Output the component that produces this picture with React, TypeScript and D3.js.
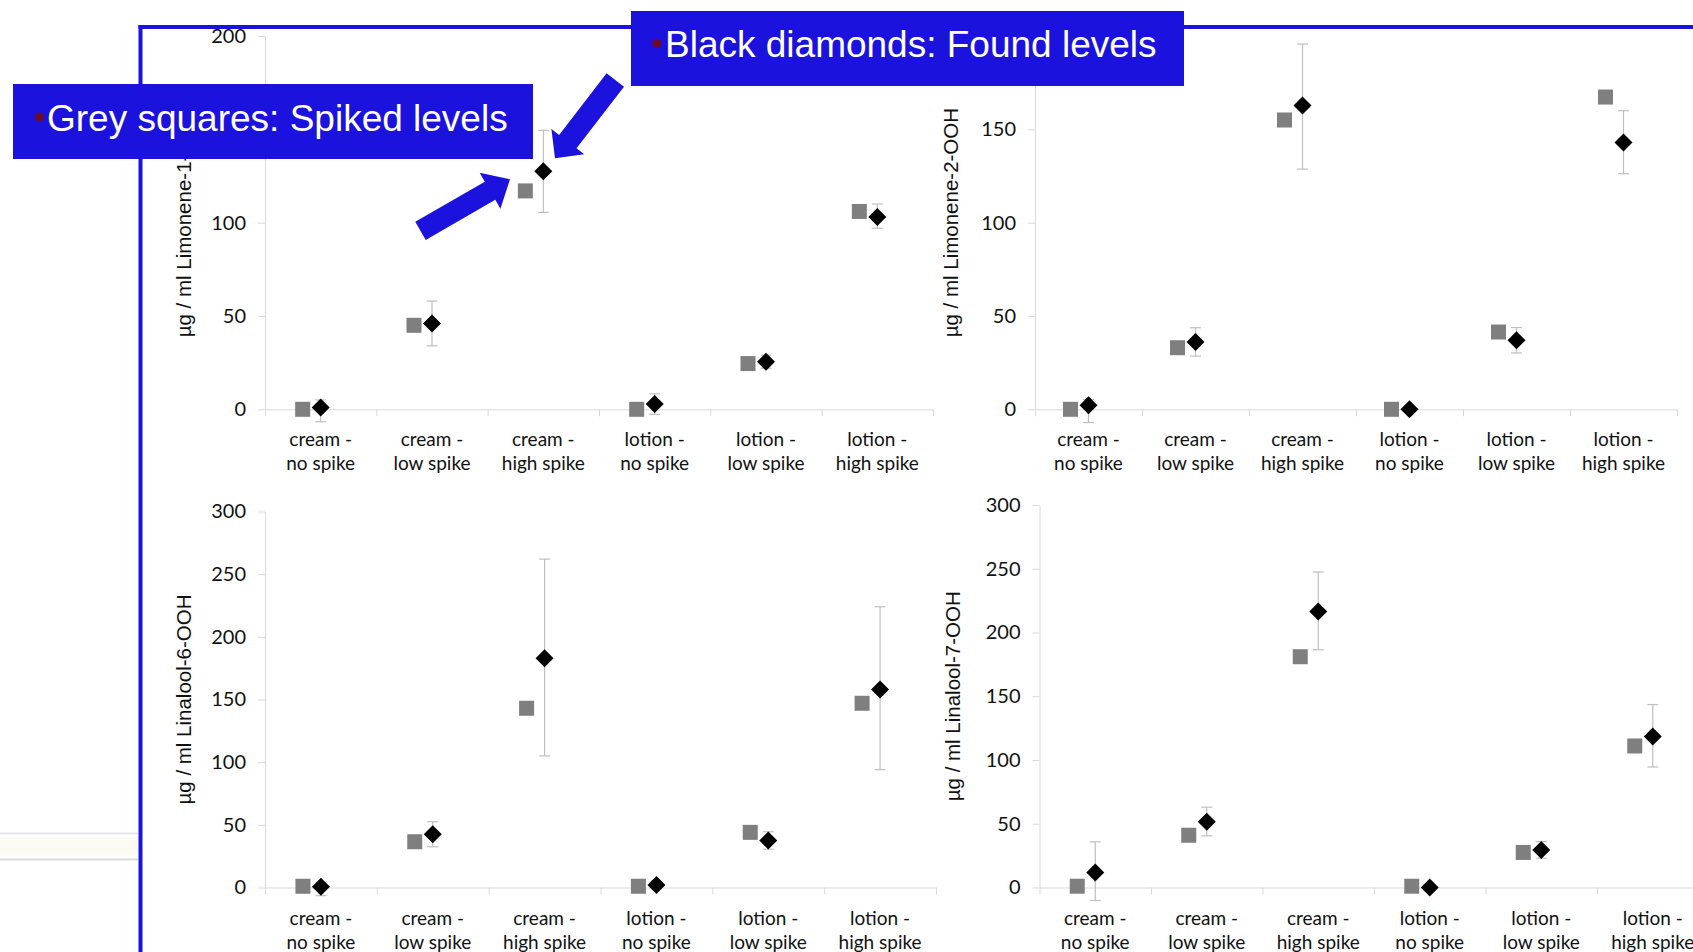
import { useEffect, useRef } from 'react'
import * as d3 from 'd3'

// ── Data ────────────────────────────────────────────────────────────────────
const CAT_LINE1 = ['cream -', 'cream -', 'cream -', 'lotion -', 'lotion -', 'lotion -']
const CAT_LINE2 = ['no spike', 'low spike', 'high spike', 'no spike', 'low spike', 'high spike']

const TICKS_200 = [0, 50, 100, 150, 200]
const TICKS_300 = [0, 50, 100, 150, 200, 250, 300]

// Limonene-1-OOH
const LIM1_SPIKED = [0, 45, 117, 0, 24.5, 106]
const LIM1_FOUND = [1, 46, 127.5, 2.8, 25.5, 103]
const LIM1_PLUS = [4, 12, 22, 5.5, 3.5, 7]
const LIM1_MINUS = [7.7, 12, 22, 5.5, 3.5, 6]

// Limonene-2-OOH
const LIM2_SPIKED = [0, 33, 155, 0, 41.4, 167.3]
const LIM2_FOUND = [2.2, 36, 162.7, 0, 37, 143]
const LIM2_PLUS = [3, 7.7, 33, 0, 6.8, 17]
const LIM2_MINUS = [9.3, 7.5, 34, 0, 6.8, 16.8]

// Linalool-6-OOH
const LIN6_SPIKED = [1, 36.5, 143, 1, 44, 147]
const LIN6_FOUND = [0.5, 42.5, 183, 2, 37.5, 158]
const LIN6_PLUS = [3, 10, 79, 3, 7, 66]
const LIN6_MINUS = [7, 10, 78, 3, 7, 64]

// Linalool-7-OOH
const LIN7_SPIKED = [1, 41, 181, 1, 27.5, 111]
const LIN7_FOUND = [11.8, 51.5, 216.5, 0, 29.5, 118.5]
const LIN7_PLUS = [24, 11.5, 31, 0, 6.5, 25]
const LIN7_MINUS = [22, 11, 30, 0, 6.5, 24]

// tick labels hidden under the callout boxes in the slide
const HIDE_NONE: number[] = []
const HIDE_LIM1 = [150]
const HIDE_LIM2 = [200]

// ── Styles ──────────────────────────────────────────────────────────────────
const BLUE = '#1c12de'
const AXIS = '#d9d9d9'
const ERR = '#bfbfbf'
const SQUARE = '#7f7f7f'
const BULLET = '#6b0a2b'
const TICK_FONT = 'Lato, "Open Sans", sans-serif'
const SANS = '"Liberation Sans", Arial, sans-serif'

const SQUARE_SIZE = 15
const DIAMOND_SIZE = 18
const SQUARE_SHIFT = -18
const CAP = 11

type PanelProps = {
  title: string
  spiked: number[]
  found: number[]
  plus: number[]
  minus: number[]
  yTicks: number[]
  hidden: number[]
  left: number
  right: number
  top: number
  bottom: number
  titleX: number
}

function Panel({ title, spiked, found, plus, minus, yTicks, hidden, left, right, top, bottom, titleX }: PanelProps) {
  const ref = useRef<SVGGElement>(null)

  useEffect(() => {
    if (!ref.current) return
    const g = d3.select(ref.current)
    g.selectAll('*').remove()

    const keys = d3.range(spiked.length)
    const x = d3.scaleBand<number>().domain(keys).range([left, right]).padding(0)
    const y = d3.scaleLinear().domain([0, d3.max(yTicks) as number]).range([bottom, top])
    const cx = (i: number) => (x(i) as number) + x.bandwidth() / 2

    // ── Y axis ──
    g.append('g')
      .attr('transform', `translate(${left},0)`)
      .call(d3.axisLeft(y).tickValues(yTicks).tickSize(7).tickSizeOuter(0).tickPadding(12))
      .call((a) => a.select('.domain').attr('stroke', AXIS))
      .call((a) => a.selectAll('line').attr('stroke', AXIS))
      .call((a) => a.selectAll<SVGTextElement, number>('text')
        .attr('font-family', TICK_FONT).attr('font-size', 20).attr('fill', '#111'))
      .call((a) => a.selectAll<SVGTextElement, number>('text')
        .filter((d) => hidden.includes(d)).remove())

    // ── X axis (category boundaries) ──
    const xb = d3.scaleLinear().domain([0, keys.length]).range([left, right])
    g.append('g')
      .attr('transform', `translate(0,${y(0)})`)
      .call(d3.axisBottom(xb).tickValues(d3.range(keys.length + 1)).tickSize(7).tickSizeOuter(0).tickFormat(() => ''))
      .call((a) => a.select('.domain').attr('stroke', AXIS))
      .call((a) => a.selectAll('line').attr('stroke', AXIS))
      .call((a) => a.selectAll('text').remove())

    // Category labels
    const labels = g.append('g')
      .attr('font-family', TICK_FONT).attr('font-size', 19).attr('fill', '#111')
      .attr('text-anchor', 'middle')
    keys.forEach((i) => {
      const t = labels.append('text').attr('x', cx(i)).attr('y', y(0) + 37)
      t.append('tspan').attr('x', cx(i)).text(CAT_LINE1[i])
      t.append('tspan').attr('x', cx(i)).attr('dy', 24).text(CAT_LINE2[i])
    })

    // Y title
    g.append('text')
      .attr('transform', `translate(${titleX},${(top + bottom) / 2}) rotate(-90)`)
      .attr('text-anchor', 'middle').attr('dominant-baseline', 'middle')
      .attr('font-family', SANS).attr('font-size', 20.5).attr('fill', '#111')
      .text(title)

    // Spiked levels (grey squares)
    g.append('g').selectAll('rect').data(keys).join('rect')
      .attr('x', (i) => cx(i) + SQUARE_SHIFT - SQUARE_SIZE / 2)
      .attr('y', (i) => y(spiked[i]) - SQUARE_SIZE / 2)
      .attr('width', SQUARE_SIZE).attr('height', SQUARE_SIZE)
      .attr('fill', SQUARE)

    // Error bars on found levels
    const err = g.append('g').attr('stroke', ERR).attr('stroke-width', 1.2)
    keys.filter((i) => plus[i] > 0 || minus[i] > 0).forEach((i) => {
      const yHi = y(found[i] + plus[i])
      const yLo = y(found[i] - minus[i])
      err.append('line').attr('x1', cx(i)).attr('x2', cx(i)).attr('y1', yHi).attr('y2', yLo)
      err.append('line').attr('x1', cx(i) - CAP / 2).attr('x2', cx(i) + CAP / 2).attr('y1', yHi).attr('y2', yHi)
      err.append('line').attr('x1', cx(i) - CAP / 2).attr('x2', cx(i) + CAP / 2).attr('y1', yLo).attr('y2', yLo)
    })

    // Found levels (black diamonds)
    const side = DIAMOND_SIZE / Math.SQRT2
    const diamond = d3.symbol(d3.symbolSquare, side * side)
    g.append('g').selectAll('path').data(keys).join('path')
      .attr('transform', (i) => `translate(${cx(i)},${y(found[i])}) rotate(45)`)
      .attr('d', diamond())
      .attr('fill', '#000')
  }, [title, spiked, found, plus, minus, yTicks, hidden, left, right, top, bottom, titleX])

  return <g ref={ref} />
}

// Block arrow polygon from tail centre to tip
function arrowPoints(tail: [number, number], tip: [number, number], shaft: number, head: number, headLen: number) {
  const dx = tip[0] - tail[0]
  const dy = tip[1] - tail[1]
  const len = Math.hypot(dx, dy)
  const ux = dx / len, uy = dy / len
  const px = -uy, py = ux
  const bx = tip[0] - ux * headLen, by = tip[1] - uy * headLen
  const pts = [
    [tail[0] + px * shaft, tail[1] + py * shaft],
    [bx + px * shaft, by + py * shaft],
    [bx + px * head, by + py * head],
    tip,
    [bx - px * head, by - py * head],
    [bx - px * shaft, by - py * shaft],
    [tail[0] - px * shaft, tail[1] - py * shaft],
  ]
  return pts.map((p) => p.join(',')).join(' ')
}

export default function App() {
  return (
    <div style={{ position: 'fixed', left: 0, top: 0, width: 1693, height: 952, background: '#fff' }}>
      <svg width={1693} height={952} style={{ display: 'block' }}>
        {/* faint slide decoration */}
        <rect x={0} y={836} width={138} height={18} fill="#fbfbf4" />
        <line x1={0} x2={138} y1={833.5} y2={833.5} stroke="#e4e8ee" strokeWidth={2} />
        <line x1={0} x2={138} y1={859.5} y2={859.5} stroke="#dcdcdc" strokeWidth={2} />

        {/* slide frame */}
        <line x1={140.5} x2={140.5} y1={25} y2={952} stroke={BLUE} strokeWidth={4} />
        <line x1={138.5} x2={1693} y1={27} y2={27} stroke={BLUE} strokeWidth={4} />

        <Panel title="µg / ml Limonene-1-OOH" spiked={LIM1_SPIKED} found={LIM1_FOUND} plus={LIM1_PLUS} minus={LIM1_MINUS}
          yTicks={TICKS_200} hidden={HIDE_LIM1} left={265} right={933} top={36} bottom={409.3} titleX={186} />
        <Panel title="µg / ml Limonene-2-OOH" spiked={LIM2_SPIKED} found={LIM2_FOUND} plus={LIM2_PLUS} minus={LIM2_MINUS}
          yTicks={TICKS_200} hidden={HIDE_LIM2} left={1035} right={1677} top={36} bottom={409.3} titleX={953} />
        <Panel title="µg / ml Linalool-6-OOH" spiked={LIN6_SPIKED} found={LIN6_FOUND} plus={LIN6_PLUS} minus={LIN6_MINUS}
          yTicks={TICKS_300} hidden={HIDE_NONE} left={265} right={936} top={511.5} bottom={887.5} titleX={186} />
        <Panel title="µg / ml Linalool-7-OOH" spiked={LIN7_SPIKED} found={LIN7_FOUND} plus={LIN7_PLUS} minus={LIN7_MINUS}
          yTicks={TICKS_300} hidden={HIDE_NONE} left={1039.5} right={1708.5} top={505} bottom={887.5} titleX={955} />

        {/* callout arrows */}
        <polygon points={arrowPoints([420.5, 230.8], [510, 179.3], 10.5, 20.8, 23)} fill={BLUE} />
        <polygon points={arrowPoints([615.3, 80], [555, 158.3], 11, 20.7, 21)} fill={BLUE} />

        {/* callout boxes */}
        <rect x={13} y={84} width={520} height={75} fill={BLUE} />
        <circle cx={39.5} cy={117} r={4.5} fill={BULLET} />
        <text x={47} y={130.5} fontFamily={SANS} fontSize={37} fill="#fff">Grey squares: Spiked levels</text>

        <rect x={631} y={11} width={553} height={75} fill={BLUE} />
        <circle cx={657} cy={43.5} r={4.5} fill={BULLET} />
        <text x={665} y={56.5} fontFamily={SANS} fontSize={37} fill="#fff">Black diamonds: Found levels</text>
      </svg>
    </div>
  )
}
